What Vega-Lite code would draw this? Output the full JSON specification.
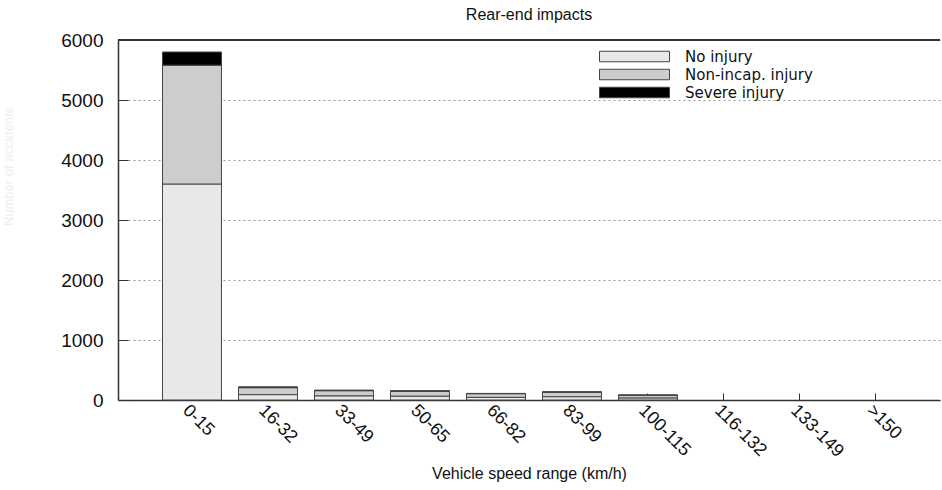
{
  "$schema": "https://vega.github.io/schema/vega-lite/v6.json",
  "width": 822,
  "height": 360,
  "autosize": {"type": "none"},
  "padding": {"left": 118, "top": 40, "right": 2, "bottom": 90},
  "background": "white",
  "config": {"font": "Liberation Sans", "view": {"stroke": null}},
  "title": {"text": "Rear-end impacts", "fontSize": 16, "fontWeight": "normal", "anchor": "middle", "offset": 8, "color": "#111"},
  "data": {"values": [
    {"range": "0-15", "injury": "No injury", "count": 3600},
    {"range": "0-15", "injury": "Non-incap. injury", "count": 1980},
    {"range": "0-15", "injury": "Severe injury", "count": 220},
    {"range": "16-32", "injury": "No injury", "count": 90},
    {"range": "16-32", "injury": "Non-incap. injury", "count": 115},
    {"range": "16-32", "injury": "Severe injury", "count": 15},
    {"range": "33-49", "injury": "No injury", "count": 70},
    {"range": "33-49", "injury": "Non-incap. injury", "count": 85},
    {"range": "33-49", "injury": "Severe injury", "count": 10},
    {"range": "50-65", "injury": "No injury", "count": 65},
    {"range": "50-65", "injury": "Non-incap. injury", "count": 80},
    {"range": "50-65", "injury": "Severe injury", "count": 10},
    {"range": "66-82", "injury": "No injury", "count": 45},
    {"range": "66-82", "injury": "Non-incap. injury", "count": 60},
    {"range": "66-82", "injury": "Severe injury", "count": 5},
    {"range": "83-99", "injury": "No injury", "count": 55},
    {"range": "83-99", "injury": "Non-incap. injury", "count": 75},
    {"range": "83-99", "injury": "Severe injury", "count": 8},
    {"range": "100-115", "injury": "No injury", "count": 35},
    {"range": "100-115", "injury": "Non-incap. injury", "count": 45},
    {"range": "100-115", "injury": "Severe injury", "count": 5}
  ]},
  "layer": [
    {
      "mark": {"type": "bar", "stroke": "#444", "strokeWidth": 1},
      "encoding": {
        "x": {
          "field": "range", "type": "nominal", "sort": null,
          "scale": {"domain": ["0-15", "16-32", "33-49", "50-65", "66-82", "83-99", "100-115", "116-132", "133-149", ">150"], "paddingInner": 0.224, "paddingOuter": 0.52, "align": 0.563},
          "axis": {
            "title": "Vehicle speed range (km/h)", "titleFontSize": 16, "titleFontWeight": "normal", "titleColor": "#111",
            "titleY": 65, "titleBaseline": "top",
            "labelAngle": 45, "labelAlign": "left", "labelBaseline": "top", "labelFontSize": 18, "labelColor": "#111", "labelPadding": 8,
            "tickSize": -7, "tickColor": "#333", "domainColor": "#333", "domainWidth": 1.5, "grid": false
          }
        },
        "y": {
          "field": "count", "type": "quantitative", "stack": "zero",
          "scale": {"domain": [0, 6000], "nice": false},
          "axis": {
            "values": [0, 1000, 2000, 3000, 4000, 5000, 6000], "format": "d",
            "title": "Number of accidents", "titleColor": "#eeeeee", "titleFontSize": 13, "titleFontWeight": "normal",
            "titleX": -103, "titleY": 126, "titleAngle": -90,
            "labelFontSize": 19, "labelColor": "#111", "labelPadding": 25,
            "tickSize": -10, "tickColor": "#333", "domainColor": "#333", "domainWidth": 1.5,
            "grid": true, "gridDash": [2, 3], "gridColor": "#999"
          }
        },
        "order": {"field": "injury", "sort": "ascending"},
        "color": {
          "field": "injury", "type": "nominal",
          "scale": {"domain": ["No injury", "Non-incap. injury", "Severe injury"], "range": ["#e8e8e8", "#cdcdcd", "#000000"]},
          "legend": {
            "orient": "none", "legendX": 509, "legendY": 9, "title": null, "padding": 0,
            "symbolType": "M-10,-1.5H10V1.5H-10Z", "symbolSize": 49, "symbolStrokeColor": "#444", "symbolStrokeWidth": 1, "symbolOpacity": 1,
            "labelFont": "DejaVu Sans", "labelFontSize": 15, "labelColor": "#111", "labelOffset": 43, "rowPadding": 2
          }
        }
      }
    },
    {
      "mark": {"type": "rule", "color": "#333", "strokeWidth": 1.5},
      "encoding": {"y": {"datum": 6000}}
    }
  ]
}
